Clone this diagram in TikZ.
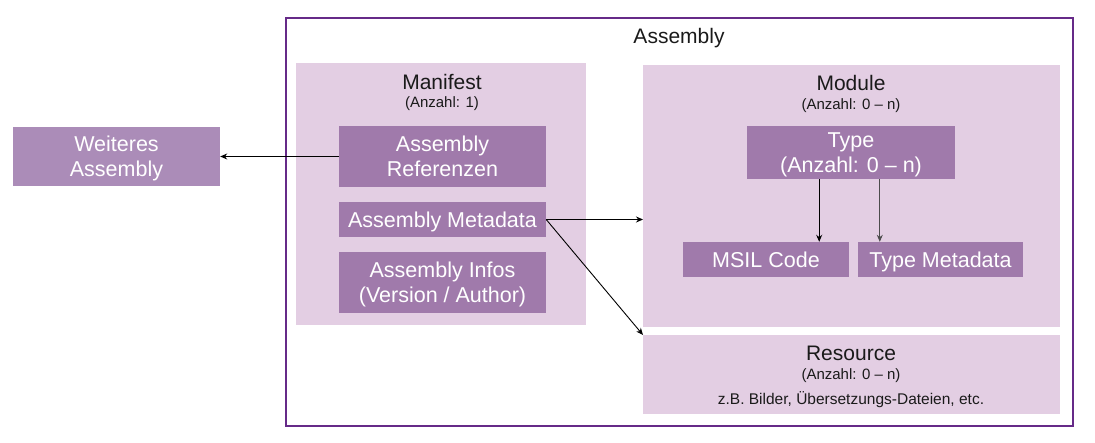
\documentclass[tikz,border=0pt]{standalone}
\usepackage{fontspec}
\setmainfont{Liberation Sans}
\usetikzlibrary{arrows.meta}
\definecolor{outerline}{HTML}{662A88}
\definecolor{lightbox}{HTML}{E3CEE3}
\definecolor{darkbox}{HTML}{A07AAB}
\definecolor{extbox}{HTML}{AB8CB8}
\definecolor{txt}{HTML}{1A1A1A}
\tikzset{
  container/.style={fill=lightbox, draw=none, inner sep=0pt, anchor=north west},
  itembox/.style={fill=darkbox, draw=none, inner sep=0pt, text=white, align=center, font=\fontsize{21.5}{25}\selectfont},
  oneline/.style={text height=15.4pt, text depth=0pt},
  twoline/.style={text depth=0pt},
  title/.style={text=txt, inner sep=0pt, anchor=base, font=\fontsize{21}{24}\selectfont},
  subtitle/.style={text=txt, inner sep=0pt, anchor=base, font=\fontsize{15}{18}\selectfont},
  conn/.style={draw=black, line width=0.9pt, -{Stealth[length=7pt,width=6pt]}}
}
\begin{document}
\begin{tikzpicture}[x=1pt,y=-1pt]
\useasboundingbox (0,0) rectangle (1095,443);
% outer assembly
\node[draw=outerline, line width=2.2pt, inner sep=0pt, minimum width=787pt, minimum height=408pt, anchor=north west] (assembly) at (285,17) {};
\node[title] (asmtitle) at (679,43.5) {Assembly};
% manifest
\node[container, minimum width=290pt, minimum height=262pt] (manifest) at (296,63) {};
\node[title] (mantitle) at (442,90) {Manifest};
\node[subtitle] (mansub) at (442,108) {(Anzahl: 1)};
\node[itembox, twoline, minimum width=207pt, minimum height=61pt] (refs) at (442.5,156.5) {Assembly\\Referenzen};
\node[itembox, oneline, minimum width=207pt, minimum height=35pt] (meta) at (442.5,219.5) {Assembly Metadata};
\node[itembox, twoline, minimum width=207pt, minimum height=61pt] (infos) at (442.5,282.5) {Assembly Infos\\(Version / Author)};
% weiteres
\node[itembox, twoline, fill=extbox, minimum width=207pt, minimum height=59pt] (weiteres) at (116.5,156.5) {Weiteres\\Assembly};
% module
\node[container, minimum width=417pt, minimum height=262pt] (module) at (643,65) {};
\node[title] (modtitle) at (851,90.5) {Module};
\node[subtitle] (modsub) at (851,110) {(Anzahl: 0 -- n)};
\node[itembox, twoline, minimum width=208pt, minimum height=53pt] (type) at (851,152.5) {Type\\(Anzahl: 0 -- n)};
\node[itembox, oneline, minimum width=166pt, minimum height=35pt] (msil) at (766,259.5) {MSIL Code};
\node[itembox, oneline, minimum width=165pt, minimum height=35pt] (tmeta) at (940.5,259.5) {Type Metadata};
% resource
\node[container, minimum width=417pt, minimum height=79pt] (resource) at (643,335) {};
\node[title] (restitle) at (851,361) {Resource};
\node[subtitle] (ressub) at (851,380) {(Anzahl: 0 -- n)};
\node[subtitle, font=\fontsize{15.5}{18}\selectfont] (resdesc) at (851,405) {z.B. Bilder, Übersetzungs-Dateien, etc.};
% connectors
\draw[conn] (refs.west) -- (weiteres.east);
\draw[conn] (meta.east) -- (meta.east -| module.west);
\draw[conn] (meta.east) -- (resource.north west);
\draw[conn] (type.south -| msil.east) ++(-30pt,0) coordinate (t1) -- (t1 |- msil.north);
\draw[conn, draw=black!70] (type.south -| tmeta.west) ++(22pt,0) coordinate (t2) -- (t2 |- tmeta.north);
\end{tikzpicture}
\end{document}
